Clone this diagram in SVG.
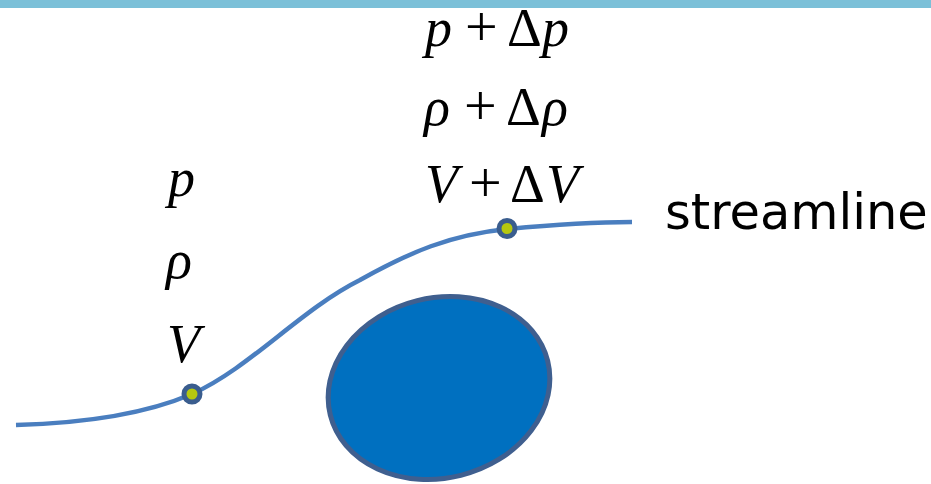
<svg xmlns="http://www.w3.org/2000/svg" width="931" height="484" viewBox="0 0 931 484">
<style>
.m{font-family:"Liberation Serif","Times New Roman",serif;font-size:54px;fill:#000}
.i{font-style:italic}
.pl{font-size:58px}
.lbl{font-family:"DejaVu Sans",Verdana,sans-serif;font-size:49.5px;fill:#000}
.pt{fill:#B5C80F;stroke:#3A5D8E;stroke-width:5}
</style>
<rect x="0" y="0" width="931" height="8" fill="#7BC0D8"/>
<g id="body">
<ellipse cx="439" cy="388" rx="112" ry="90" transform="rotate(-14 439 388)" fill="#0070C0" stroke="#3F5F8F" stroke-width="5"/>
</g>
<g id="connectors">
<path id="streamline-curve" d="M16,425 C90,423 150,412 192,394 C250,368 300,310 360,280 C410,252 450,235 507,229 C560,224 600,222 632,222" fill="none" stroke="#4A7EBF" stroke-width="4.5"/>
</g>
<g id="point1"><circle class="pt" cx="192" cy="394" r="8"/></g>
<g id="point2"><circle class="pt" cx="507" cy="228.5" r="8"/></g>
<g id="labels-left">
<text class="m i" x="168" y="196">p</text>
<text class="m i" x="166" y="278">ρ</text>
<text class="m i" x="167" y="362">V</text>
</g>
<g id="labels-right">
<text class="m" y="46"><tspan class="i" x="425">p</tspan><tspan class="pl" x="465">+</tspan><tspan x="507">Δ</tspan><tspan class="i" x="542">p</tspan></text>
<text class="m" y="125"><tspan class="i" x="424">ρ</tspan><tspan class="pl" x="464">+</tspan><tspan x="506">Δ</tspan><tspan class="i" x="542">ρ</tspan></text>
<text class="m" y="202"><tspan class="i" x="425">V</tspan><tspan class="pl" x="469">+</tspan><tspan x="510">Δ</tspan><tspan class="i" x="546">V</tspan></text>
</g>
<g id="streamline-label">
<text class="lbl" x="665" y="229">streamline</text>
</g>
</svg>
